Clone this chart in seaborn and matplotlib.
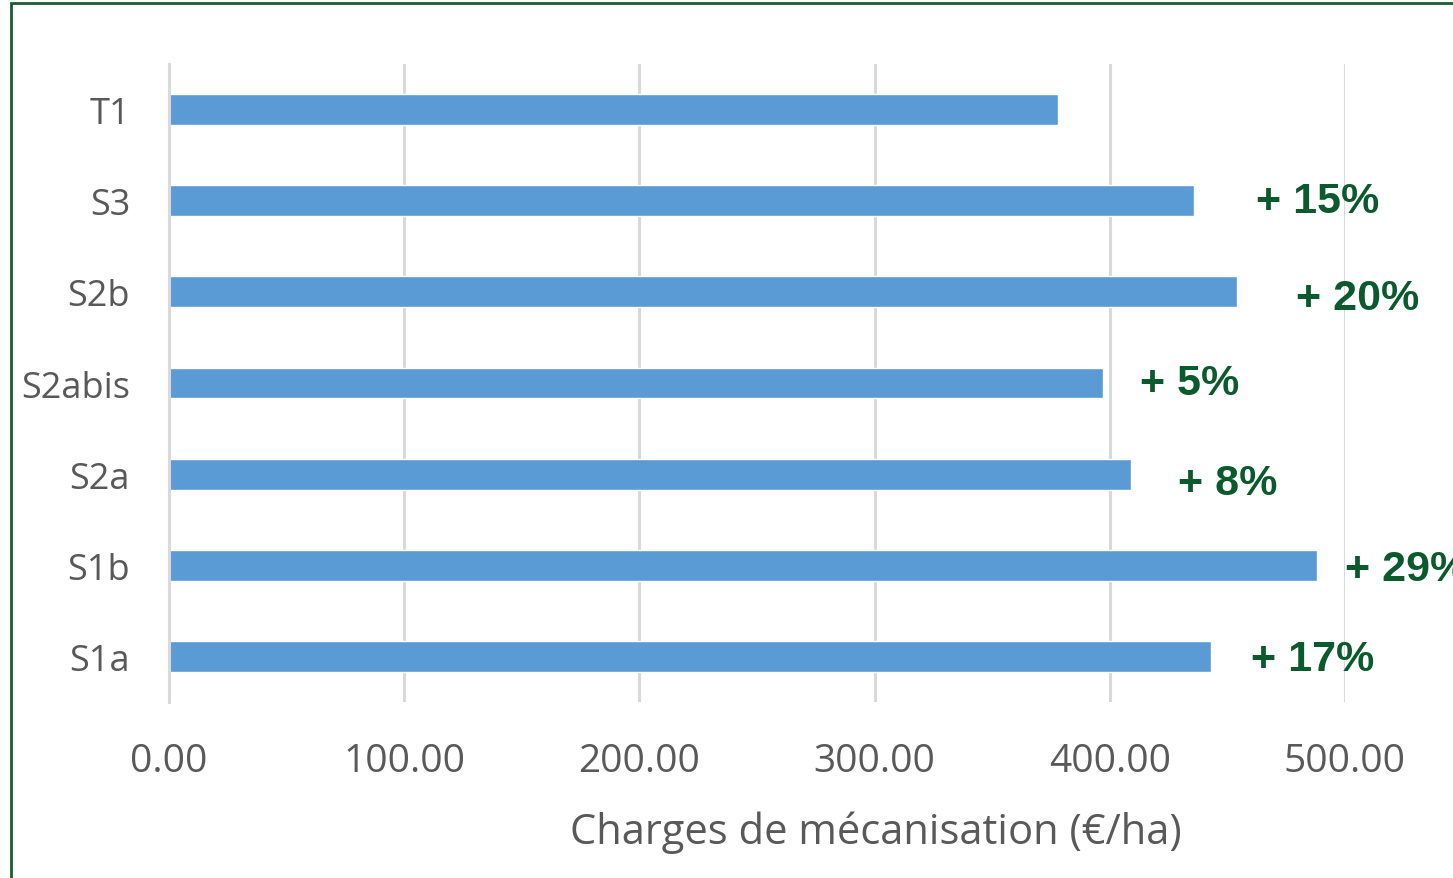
import matplotlib
matplotlib.use("Agg")
import matplotlib.pyplot as plt
import seaborn as sns
import pandas as pd

# Data
scenarios = ['T1', 'S3', 'S2b', 'S2abis', 'S2a', 'S1b', 'S1a']
charges = [378, 436, 454, 397, 409, 488, 443]
hausse = ['', '+ 15%', '+ 20%', '+ 5%', '+ 8%', '+ 29%', '+ 17%']
# where the percentage labels sit (x in €/ha, small vertical nudge in bar units)
hausse_x = [None, 462, 479, 413, 429, 500, 460]
hausse_dy = [0, 0, 0.07, 0, 0.1, 0.04, 0.03]

df = pd.DataFrame({'Scenario': scenarios, 'Charges': charges})

sns.set_style('white')
plt.rcParams['font.family'] = ['Open Sans', 'DejaVu Sans']

fig = plt.figure(figsize=(14.53, 8.79), dpi=100)
ax = fig.add_axes([169 / 1453, 1 - 703 / 879, 1176 / 1453, 638 / 879])

sns.barplot(data=df, x='Charges', y='Scenario', order=scenarios, orient='h',
            color='#5B9BD5', saturation=1, width=0.34, ax=ax)

ax.set_xlim(0, 500)
ax.set_xticks([0, 100, 200, 300, 400, 500])
ax.set_xticklabels([f'{v:.2f}' for v in [0, 100, 200, 300, 400, 500]])
ax.grid(axis='x', color='#D9D9D9', linewidth=2.2)
ax.set_axisbelow(True)
for s in ['top', 'right', 'bottom']:
    ax.spines[s].set_visible(False)
ax.spines['left'].set_color('#D9D9D9')
ax.spines['left'].set_linewidth(2.2)
ax.tick_params(axis='both', length=0, labelcolor='#595959')
ax.tick_params(axis='x', pad=29, labelsize=28)
ax.tick_params(axis='y', pad=28, labelsize=26)
ax.set_ylabel('')
ax.set_xlabel('Charges de mécanisation (€/ha)', fontsize=30, color='#595959', labelpad=22)
ax.xaxis.label.set_x(0.601)

# Percentage increases vs T1
for i, (lab, xp, dy) in enumerate(zip(hausse, hausse_x, hausse_dy)):
    if lab:
        ax.text(xp, i + dy, lab, va='center', ha='left', fontsize=31, fontweight='bold',
                color='#0B5A2D', family='Liberation Sans', clip_on=False)

# dark green frame
fig.patches.append(plt.Rectangle((11 / 1453, -0.1), 1.2, 1 - 4 / 879 + 0.1,
                                 transform=fig.transFigure, fill=False,
                                 edgecolor='#1A5B34', linewidth=2))

fig.savefig('out.png', dpi=100)
